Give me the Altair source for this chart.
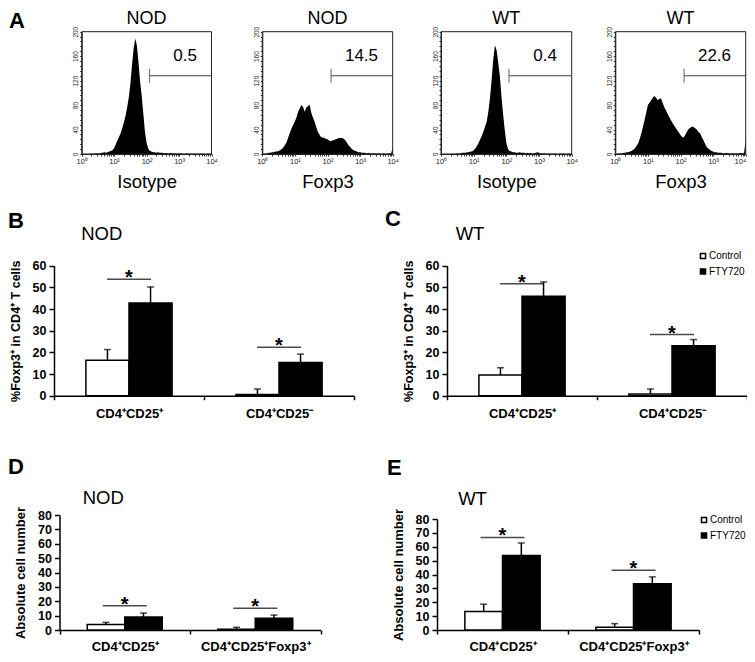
import altair as alt
import pandas as pd

# ---------------- data ----------------
# flow histograms: counts on a 0.05-decade grid from 10^0 to 10^4
decades = [round(i * 0.05, 2) for i in range(81)]

hist_nod_iso = [0, 0, 0, 0, 0, 0, 1, 0, 1, 1,
                1, 1, 2, 2, 3, 2, 3, 4, 5, 6,
                10, 16, 22, 28, 34, 42, 52, 62, 76, 92,
                115, 145, 172, 189, 178, 150, 118, 95, 65, 36,
                18, 9, 5, 4, 3, 3, 2, 3, 2, 2,
                2, 1, 2, 1, 1, 2, 1, 1, 1, 1,
                1, 1, 1, 0, 1, 1, 0, 1, 0, 1,
                0, 1, 0, 1, 0, 1, 0, 0, 1, 0, 1]
hist_nod_foxp3 = [0, 0, 1, 1, 2, 2, 3, 3, 4, 4,
                  5, 6, 8, 11, 15, 20, 28, 35, 42, 48,
                  53, 60, 69, 75, 80, 77, 69, 76, 78, 81,
                  68, 60, 53, 45, 37, 32, 28, 27, 26, 25,
                  24, 22, 21, 22, 23, 24, 25, 26, 26, 26,
                  25, 22, 18, 14, 11, 8, 6, 5, 4, 3,
                  3, 2, 2, 2, 1, 2, 1, 1, 1, 1,
                  1, 1, 1, 0, 1, 1, 0, 1, 1, 1, 10]
hist_wt_iso = [0, 0, 0, 0, 0, 0, 0, 1, 0, 1,
               1, 1, 1, 2, 2, 2, 3, 3, 4, 4,
               6, 9, 13, 18, 24, 30, 37, 45, 53, 70,
               92, 122, 155, 178, 170, 150, 128, 95, 65, 40,
               18, 8, 5, 4, 3, 3, 2, 2, 3, 2,
               2, 2, 1, 2, 1, 2, 1, 1, 2, 3,
               2, 1, 1, 1, 1, 0, 1, 0, 1, 0,
               1, 0, 0, 1, 0, 1, 0, 0, 1, 0, 1]
hist_wt_foxp3 = [0, 0, 1, 1, 1, 2, 2, 3, 3, 4,
                 5, 7, 9, 13, 17, 25, 34, 45, 56, 68,
                 80, 84, 88, 92, 95, 92, 88, 90, 91, 84,
                 77, 72, 66, 61, 56, 51, 47, 43, 39, 35,
                 31, 28, 27, 32, 37, 41, 43, 45, 44, 42,
                 40, 36, 34, 28, 23, 17, 12, 9, 7, 5,
                 4, 3, 3, 2, 2, 2, 1, 1, 2, 1,
                 1, 1, 1, 1, 1, 1, 1, 2, 1, 2, 23]
hist_counts = [hist_nod_iso, hist_nod_foxp3, hist_wt_iso, hist_wt_foxp3]
hist_titles = ["NOD", "NOD", "WT", "WT"]
hist_xlabels = ["Isotype", "Foxp3", "Isotype", "Foxp3"]
gate_pct = ["0.5", "14.5", "0.4", "22.6"]
gate_start = [2.09, 2.11, 2.08, 2.11]   # log10 of gate start
gate_level = [128, 128, 128, 128]

groups = ["Control", "FTY720"]
cats_pct = ["CD4⁺CD25⁺", "CD4⁺CD25⁻"]
cats_abs = ["CD4⁺CD25⁺", "CD4⁺CD25⁺Foxp3⁺"]

# B  NOD  %Foxp3+
b_ctrl = [16.4, 0.5]
b_ctrl_sd = [4.9, 2.6]
b_fty = [42.8, 15.3]
b_fty_sd = [7.4, 3.9]
b_sig = [53.7, 22.4]
# C  WT  %Foxp3+
c_ctrl = [9.6, 0.8]
c_ctrl_sd = [3.3, 2.3]
c_fty = [45.9, 23.0]
c_fty_sd = [6.6, 2.9]
c_sig = [51.7, 28.2]
# D  NOD  absolute number
d_ctrl = [3.9, 0.5]
d_ctrl_sd = [1.4, 1.4]
d_fty = [9.0, 8.1]
d_fty_sd = [2.8, 2.3]
d_sig = [16.9, 15.1]
# E  WT  absolute number
e_ctrl = [13.3, 1.9]
e_ctrl_sd = [5.3, 2.7]
e_fty = [53.7, 33.3]
e_fty_sd = [9.0, 5.0]
e_sig = [66.7, 43.1]

panel_letters = ["A", "B", "C", "D", "E"]
panel_titles = ["NOD", "WT", "NOD", "WT"]
ytitle_pct = "%Foxp3⁺ in CD4⁺ T cells"
ytitle_abs = "Absolute cell number"

# ---------------- layout ----------------
FONT = "Liberation Sans"
W, H = 739, 646


def hist_panel(i, x0, x1, ybot=146, ytop=23.7, last_right=False):
    df = pd.DataFrame({"d": decades, "count": hist_counts[i]})

    def xs():
        return alt.Scale(type="log", domain=[1, 10000], range=[x0, x1], nice=False)

    def ys():
        return alt.Scale(domain=[0, 200], range=[ybot, ytop], nice=False, zero=True)

    xticks = [k * 10 ** n for n in range(4) for k in range(1, 10)] + [10000]
    align = ({"condition": {"test": "datum.value == 10000", "value": "right"}, "value": "center"}
             if last_right else "center")
    x_axis = alt.Axis(
        orient="bottom", offset=ybot - H, values=xticks,
        labelExpr="datum.value == 1 ? '10⁰' : datum.value == 10 ? '10¹' : datum.value == 100 ? '10²' : datum.value == 1000 ? '10³' : datum.value == 10000 ? '10⁴' : ''",
        labelFontSize=7.5, labelColor="#222", labelPadding=1, labelOverlap=False, labelFlush=False,
        labelAlign=align,
        tickSize=2, tickColor="#333", domainColor="#222", grid=False,
        title=hist_xlabels[i], titleFontSize=18.5, titleFontWeight="normal", titleColor="black",
        titleBaseline="alphabetic", titleY=33.7, titleFont=FONT)
    y_axis = alt.Axis(
        orient="left", offset=-x0, values=list(range(0, 201, 8)),
        labelExpr="datum.value % 40 == 0 ? datum.label : ''",
        labelAngle=270, labelFontSize=6.5, labelColor="#222", labelPadding=1,
        tickSize=2, tickColor="#333", domainColor="#222", grid=False, title=None)
    area = alt.Chart(df).transform_calculate(fl="pow(10, datum.d)").mark_area(
        color="black", interpolate="linear").encode(
        x=alt.X("fl:Q", scale=xs(), axis=x_axis),
        y=alt.Y("count:Q", scale=ys(), axis=y_axis))
    frame = alt.Chart(pd.DataFrame({"a": [1], "b": [10000], "c": [0], "e": [200]})).mark_rect(
        fillOpacity=0, stroke="#222", strokeWidth=1).encode(
        x=alt.X("a:Q", scale=xs(), axis=None), x2="b:Q",
        y=alt.Y("c:Q", scale=ys(), axis=None), y2="e:Q")
    gdf = pd.DataFrame({"g0": [10 ** gate_start[i]], "g1": [10000], "lv": [gate_level[i]],
                        "lx": [10 ** 3.55], "ly": [160], "t": [gate_pct[i]]})
    gate = alt.Chart(gdf).mark_rule(color="#444", strokeWidth=1.2).encode(
        x=alt.X("g0:Q", scale=xs(), axis=None), x2="g1:Q",
        y=alt.Y("lv:Q", scale=ys(), axis=None))
    gtick = alt.Chart(gdf).mark_tick(color="#444", thickness=1.2, size=14, orient="vertical").encode(
        x=alt.X("g0:Q", scale=xs(), axis=None),
        y=alt.Y("lv:Q", scale=ys(), axis=None))
    glab = alt.Chart(gdf).mark_text(align="right", baseline="middle", font=FONT, fontSize=17,
                                    color="black").encode(
        x=alt.X("lx:Q", scale=xs(), axis=None),
        y=alt.Y("ly:Q", scale=ys(), axis=None), text="t:N")
    return [area, frame, gate, gtick, glab]


def bar_panel(cats, ctrl, ctrl_sd, fty, fty_sd, sig, xr, yr, ymax, ytitle,
              lab_pad, title_size, legend_xy=None):
    rows = []
    for k, c in enumerate(cats):
        rows.append({"cat": c, "grp": groups[0], "mean": ctrl[k], "top": ctrl[k] + ctrl_sd[k]})
        rows.append({"cat": c, "grp": groups[1], "mean": fty[k], "top": fty[k] + fty_sd[k]})
    df = pd.DataFrame(rows)
    sdf = pd.DataFrame({"cat": cats, "sig": sig})

    def xs():
        return alt.Scale(domain=cats, range=xr, paddingInner=0, paddingOuter=0)

    def ys():
        return alt.Scale(domain=[0, ymax], range=yr, nice=False, zero=True)

    def xo():
        return alt.Scale(domain=groups, paddingInner=0, paddingOuter=0.74)

    x_axis = alt.Axis(orient="bottom", offset=yr[0] - H, title=None, labelAngle=0,
                      labelFont=FONT, labelFontWeight="bold", labelFontSize=13,
                      labelColor="black", labelPadding=lab_pad, labelBaseline="alphabetic",
                      tickBand="extent",
                      tickSize=4, tickColor="black", tickWidth=1.5,
                      domainColor="black", domainWidth=1.5, grid=False)
    y_axis = alt.Axis(orient="left", offset=-xr[0], values=list(range(0, ymax + 1, 10)),
                      labelFont=FONT, labelFontWeight="bold", labelFontSize=12.5,
                      labelColor="black", labelPadding=3, tickSize=5, tickColor="black",
                      tickWidth=1.5, domainColor="black", domainWidth=1.5, grid=False,
                      title=ytitle, titleFont=FONT, titleFontWeight="bold",
                      titleFontSize=title_size, titleColor="black", titleX=-32)
    if legend_xy is None:
        legend = None
    else:
        legend = alt.Legend(orient="none", legendX=legend_xy[0], legendY=legend_xy[1],
                            direction="vertical", title=None, symbolType="square",
                            symbolSize=26, symbolStrokeColor="black", symbolStrokeWidth=1.5,
                            labelFont=FONT, labelFontSize=10, labelColor="black",
                            rowPadding=3.5, labelOffset=1, padding=0)

    def xenc():
        return alt.X("cat:N", scale=xs(), sort=cats, axis=None)

    def oenc():
        return alt.XOffset("grp:N", scale=xo(), sort=groups)

    bars = alt.Chart(df).mark_bar(stroke="black", strokeWidth=1.5).encode(
        x=alt.X("cat:N", scale=xs(), sort=cats, axis=x_axis), xOffset=oenc(),
        y=alt.Y("mean:Q", scale=ys(), axis=y_axis),
        fill=alt.Fill("grp:N", scale=alt.Scale(domain=groups, range=["white", "black"]),
                      legend=legend))
    err = alt.Chart(df).mark_rule(color="black", strokeWidth=1.5).encode(
        x=xenc(), xOffset=oenc(), y=alt.Y("mean:Q", scale=ys(), axis=None), y2="top:Q")
    cap = alt.Chart(df).mark_tick(color="black", thickness=1.5, size=7).encode(
        x=xenc(), xOffset=oenc(), y=alt.Y("top:Q", scale=ys(), axis=None))
    sigl = alt.Chart(sdf).mark_tick(color="black", thickness=1.5, size=44).encode(
        x=xenc(), y=alt.Y("sig:Q", scale=ys(), axis=None))
    star = alt.Chart(sdf).mark_text(text="*", font=FONT, fontWeight="bold", fontSize=20,
                                    baseline="alphabetic", dy=5, color="black").encode(
        x=xenc(), y=alt.Y("sig:Q", scale=ys(), axis=None))
    return [bars, err, cap, sigl, star]


def label(text, x, y, size, weight="normal", align="left"):
    return alt.Chart(pd.DataFrame({"t": [text]})).mark_text(
        align=align, baseline="alphabetic", font=FONT, fontSize=size, fontWeight=weight,
        color="black").encode(text="t:N", x=alt.value(x), y=alt.value(y))


layers = []
layers += hist_panel(0, 73.7, 203.5)
layers += hist_panel(1, 254.3, 384.7)
layers += hist_panel(2, 433.0, 563.7)
layers += hist_panel(3, 607.3, 737.7, last_right=True)
layers += bar_panel(cats_pct, b_ctrl, b_ctrl_sd, b_fty, b_fty_sd, b_sig,
                    [46, 346], [387.7, 257.7], 60, ytitle_pct, 18, 12.5)
layers += bar_panel(cats_pct, c_ctrl, c_ctrl_sd, c_fty, c_fty_sd, c_sig,
                    [439, 739], [387.7, 257.7], 60, ytitle_pct, 18, 12.5, legend_xy=(690, 243))
layers += bar_panel(cats_abs, d_ctrl, d_ctrl_sd, d_fty, d_fty_sd, d_sig,
                    [51.5, 312.5], [622, 507], 80, ytitle_abs, 16.5, 13)
layers += bar_panel(cats_abs, e_ctrl, e_ctrl_sd, e_fty, e_fty_sd, e_sig,
                    [429, 691], [622, 511], 80, ytitle_abs, 16.5, 13, legend_xy=(691, 507))

hist_centers = [138.6, 319.5, 498.3, 672.5]
for t, cx in zip(hist_titles, hist_centers):
    layers.append(label(t, cx, 15.5, 18, align="center"))

letter_pos = [(1, 19.5), (0, 220), (377, 218), (0, 466), (379, 467)]
for t, (lx, ly) in zip(panel_letters, letter_pos):
    layers.append(label(t, lx, ly, 22, weight="bold"))

title_pos = [(93.7, 232), (462, 232), (95.3, 496), (464.5, 497)]
for t, (tx, ty) in zip(panel_titles, title_pos):
    layers.append(label(t, tx, ty, 18.5, align="center"))

chart = alt.layer(*layers).resolve_scale(
    x="independent", y="independent", xOffset="independent", fill="independent"
).resolve_axis(x="independent", y="independent").resolve_legend(fill="independent").properties(
    width=W, height=H, padding=0, autosize=alt.AutoSizeParams(type="none")
).configure_view(stroke=None).configure_axis(grid=False)

chart.save("out.html", embed_options={"renderer": "svg", "actions": False})
